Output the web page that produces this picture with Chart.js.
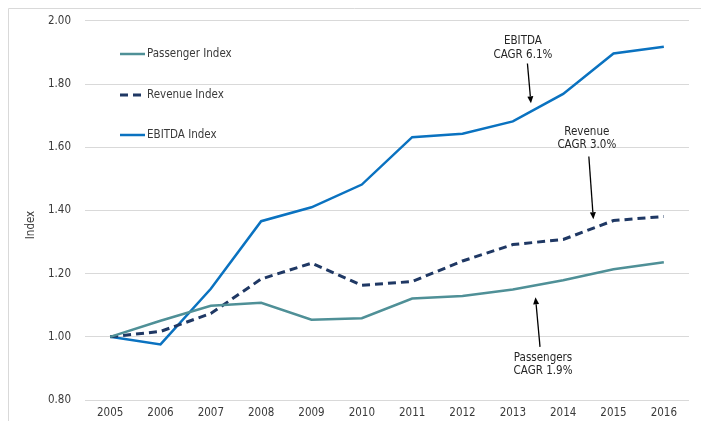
<!DOCTYPE html>
<html>
<head>
<meta charset="utf-8">
<script src="https://cdn.jsdelivr.net/npm/chart.js@4.4.1/dist/chart.umd.min.js"></script>
<style>
  html, body { margin: 0; padding: 0; background: #ffffff; }
  #wrap { position: relative; width: 701px; height: 421px; }
</style>
</head>
<body>
<div id="wrap"><canvas id="c" width="701" height="421"></canvas></div>
<script>
// ---- Data ----
const years = ['2005','2006','2007','2008','2009','2010','2011','2012','2013','2014','2015','2016'];
const passengerIndex = [1.00, 1.051, 1.098, 1.108, 1.054, 1.059, 1.121, 1.129, 1.150, 1.179, 1.214, 1.236];
const revenueIndex   = [1.00, 1.017, 1.074, 1.183, 1.233, 1.163, 1.175, 1.240, 1.292, 1.308, 1.368, 1.381];
const ebitdaIndex    = [1.00, 0.976, 1.152, 1.366, 1.410, 1.482, 1.632, 1.643, 1.682, 1.769, 1.897, 1.918];
const seriesLabels = ['Passenger Index', 'Revenue Index', 'EBITDA Index'];
const yTicks = [0.80, 1.00, 1.20, 1.40, 1.60, 1.80, 2.00];
const axisTitle = 'Index';
// annotations: text lines, label anchor, arrow tail and tip in data space (category index, value)
const annotations = [
  { lines: ['EBITDA', 'CAGR 6.1%'],     label: [8.20, 1.935], tail: [8.29, 1.865], tip: [8.36, 1.739] },
  { lines: ['Revenue', 'CAGR 3.0%'],    label: [9.47, 1.649], tail: [9.51, 1.571], tip: [9.60, 1.372] },
  { lines: ['Passengers', 'CAGR 1.9%'], label: [8.60, 0.933], tail: [8.54, 0.968], tip: [8.45, 1.125] }
];

const FONT = '"DejaVu Sans Condensed", "DejaVu Sans", sans-serif';
const TEXT = '#3a3a3a';
const FS = 11.5;

const extras = {
  id: 'extras',
  beforeDraw(chart) {
    const ctx = chart.ctx;
    ctx.save();
    ctx.strokeStyle = '#d9d9d9';
    ctx.lineWidth = 1;
    ctx.beginPath();
    ctx.moveTo(8.5, 421);
    ctx.lineTo(8.5, 8.5);
    ctx.lineTo(701, 8.5);
    ctx.stroke();
    ctx.restore();
  },
  afterDraw(chart) {
    const ctx = chart.ctx;
    const xs = chart.scales.x, ys = chart.scales.y;
    const px = v => xs.getPixelForValue(v);
    const py = v => ys.getPixelForValue(v);
    ctx.save();
    // axis title
    ctx.fillStyle = TEXT;
    ctx.font = FS + 'px ' + FONT;
    ctx.textAlign = 'center';
    ctx.textBaseline = 'middle';
    ctx.translate(31, 225);
    ctx.rotate(-Math.PI / 2);
    ctx.fillText(axisTitle, 0, 0);
    ctx.restore();

    // legend
    ctx.save();
    const legendY = [54, 95, 135];
    chart.data.datasets.forEach((ds, i) => {
      const y = legendY[i];
      ctx.strokeStyle = ds.borderColor;
      ctx.lineWidth = ds.borderWidth;
      ctx.setLineDash(ds.borderDash || []);
      ctx.beginPath();
      ctx.moveTo(120, y);
      ctx.lineTo(145, y);
      ctx.stroke();
      ctx.setLineDash([]);
      ctx.fillStyle = TEXT;
      ctx.font = FS + 'px ' + FONT;
      ctx.textAlign = 'left';
      ctx.textBaseline = 'middle';
      ctx.fillText(ds.label, 147, y);
    });
    ctx.restore();

    // annotations
    ctx.save();
    annotations.forEach(a => {
      ctx.fillStyle = '#262626';
      ctx.font = FS + 'px ' + FONT;
      ctx.textAlign = 'center';
      ctx.textBaseline = 'middle';
      const lx = px(a.label[0]), ly = py(a.label[1]);
      a.lines.forEach((t, k) => ctx.fillText(t, lx, ly + k * 13.5));
      const x0 = px(a.tail[0]), y0 = py(a.tail[1]);
      const x1 = px(a.tip[0]), y1 = py(a.tip[1]);
      const ang = Math.atan2(y1 - y0, x1 - x0);
      const hl = 7, hw = 3;
      const bx = x1 - hl * Math.cos(ang), by = y1 - hl * Math.sin(ang);
      ctx.strokeStyle = '#000000';
      ctx.lineWidth = 1.3;
      ctx.beginPath();
      ctx.moveTo(x0, y0);
      ctx.lineTo(bx, by);
      ctx.stroke();
      ctx.fillStyle = '#000000';
      ctx.beginPath();
      ctx.moveTo(x1, y1);
      ctx.lineTo(bx + hw * Math.sin(ang), by - hw * Math.cos(ang));
      ctx.lineTo(bx - hw * Math.sin(ang), by + hw * Math.cos(ang));
      ctx.closePath();
      ctx.fill();
    });
    ctx.restore();
  }
};

new Chart(document.getElementById('c'), {
  type: 'line',
  data: {
    labels: years,
    datasets: [
      { label: seriesLabels[0], data: passengerIndex, borderColor: '#4f9097', borderWidth: 2.5, pointRadius: 0, tension: 0, fill: false },
      { label: seriesLabels[1], data: revenueIndex, borderColor: '#1f3864', borderWidth: 3, borderDash: [8, 5], pointRadius: 0, tension: 0, fill: false },
      { label: seriesLabels[2], data: ebitdaIndex, borderColor: '#0a72c0', borderWidth: 2.5, pointRadius: 0, tension: 0, fill: false }
    ]
  },
  options: {
    responsive: false,
    animation: false,
    events: [],
    layout: { padding: { left: 0, right: 12, top: 18, bottom: 0 } },
    plugins: { legend: { display: false }, tooltip: { enabled: false }, title: { display: false } },
    scales: {
      x: {
        offset: true,
        grid: { display: false, drawTicks: false },
        border: { display: false },
        ticks: { color: TEXT, font: { family: FONT, size: FS }, padding: 6, maxRotation: 0 },
        afterFit(s) { s.height = 21; }
      },
      y: {
        min: 0.8, max: 2.0,
        afterBuildTicks(s) { s.ticks = yTicks.map(v => ({ value: v })); },
        grid: { color: '#d9d9d9', lineWidth: 1, drawTicks: false },
        border: { display: false },
        ticks: { color: TEXT, font: { family: FONT, size: FS }, padding: 14, callback: v => Number(v).toFixed(2) },
        afterFit(s) { s.width = 85; }
      }
    }
  },
  plugins: [extras]
});
</script>
</body>
</html>
